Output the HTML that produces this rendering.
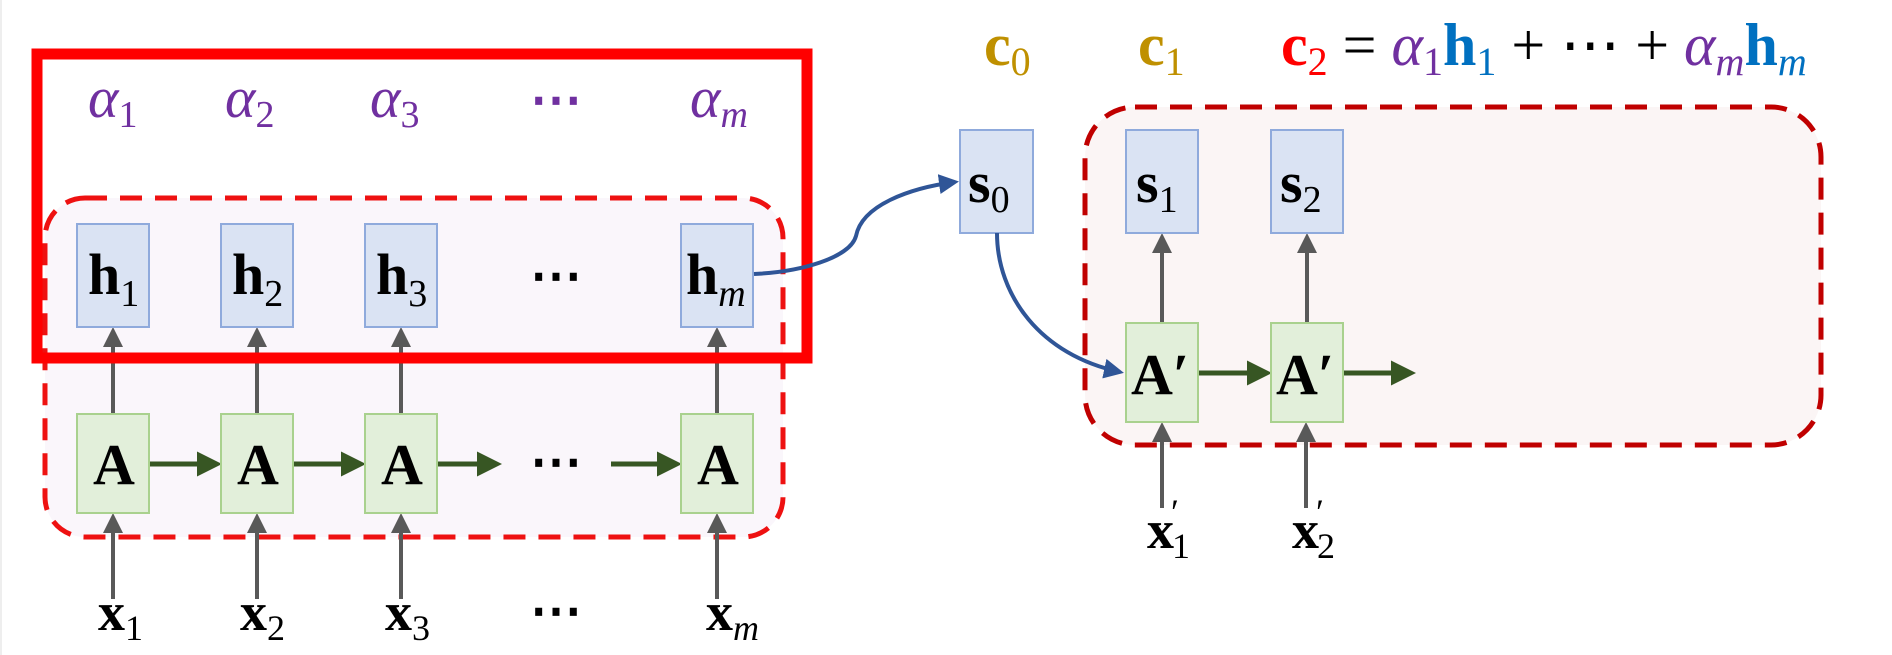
<!DOCTYPE html>
<html><head><meta charset="utf-8"><style>
html,body{margin:0;padding:0;background:#fff;overflow:hidden;}
svg{display:block;}
text{font-family:"Liberation Serif","DejaVu Serif",serif;}
.b{font-weight:bold;fill:#000;}
.i{font-style:italic;}
</style></head><body>
<svg width="1892" height="655" viewBox="0 0 1892 655" xmlns="http://www.w3.org/2000/svg">
<defs>
<marker id="ag" markerWidth="5" markerHeight="5" refX="4" refY="2.5" orient="auto" markerUnits="strokeWidth"><path d="M0,0 L5,2.5 L0,5 z" fill="#595959"/></marker>
<marker id="an" markerWidth="5" markerHeight="5" refX="4" refY="2.5" orient="auto" markerUnits="strokeWidth"><path d="M0,0 L5,2.5 L0,5 z" fill="#375623"/></marker>
<marker id="ab" markerWidth="5" markerHeight="5" refX="4" refY="2.5" orient="auto" markerUnits="strokeWidth"><path d="M0,0 L5,2.5 L0,5 z" fill="#2f5597"/></marker>
</defs>
<line x1="1" y1="0" x2="1" y2="655" stroke="#eee" stroke-width="2"/>
<rect x="45" y="198" width="738" height="339" rx="40" fill="#faf6fb" stroke="#ee1111" stroke-width="5" stroke-dasharray="22,13"/>
<rect x="1085" y="107" width="736" height="338" rx="50" fill="#fbf5f5" stroke="#c00000" stroke-width="5" stroke-dasharray="22,13"/>

<g stroke="#595959" stroke-width="4" marker-end="url(#ag)">
<line x1="113" y1="414" x2="113" y2="331"/><line x1="257" y1="414" x2="257" y2="331"/>
<line x1="401" y1="414" x2="401" y2="331"/><line x1="717" y1="414" x2="717" y2="331"/>
<line x1="113" y1="599" x2="113" y2="517"/><line x1="257" y1="599" x2="257" y2="517"/>
<line x1="401" y1="599" x2="401" y2="517"/><line x1="717" y1="599" x2="717" y2="517"/>
<line x1="1162" y1="323" x2="1162" y2="237"/><line x1="1307" y1="323" x2="1307" y2="237"/>
<line x1="1162" y1="508" x2="1162" y2="426"/><line x1="1306" y1="508" x2="1306" y2="426"/>
</g>
<g stroke="#375623" stroke-width="5" marker-end="url(#an)">
<line x1="149" y1="464" x2="217" y2="464"/><line x1="293" y1="464" x2="361" y2="464"/>
<line x1="437" y1="464" x2="497" y2="464"/><line x1="611" y1="464" x2="677" y2="464"/>
<line x1="1198" y1="373" x2="1267" y2="373"/><line x1="1343" y1="373" x2="1411" y2="373"/>
</g>
<g fill="#dae3f3" stroke="#8faadc" stroke-width="2">
<rect x="77" y="224" width="72" height="103"/><rect x="221" y="224" width="72" height="103"/>
<rect x="365" y="224" width="72" height="103"/><rect x="681" y="224" width="72" height="103"/>
<rect x="960" y="130" width="73" height="103"/><rect x="1126" y="130" width="72" height="103"/><rect x="1271" y="130" width="72" height="103"/>
</g>
<g fill="#e2efda" stroke="#a9d18e" stroke-width="2">
<rect x="77" y="414" width="72" height="99"/><rect x="221" y="414" width="72" height="99"/>
<rect x="365" y="414" width="72" height="99"/><rect x="681" y="414" width="72" height="99"/>
<rect x="1126" y="323" width="72" height="99"/><rect x="1271" y="323" width="72" height="99"/>
</g>
<rect x="37" y="54" width="770" height="304" fill="none" stroke="#ff0000" stroke-width="11"/>
<path d="M754,274 C800,272 850,258 856,236 C862,205 910,188 955,182" fill="none" stroke="#2f5597" stroke-width="4" marker-end="url(#ab)"/>
<path d="M997,233 C997,295 1040,355 1120,372" fill="none" stroke="#2f5597" stroke-width="4" marker-end="url(#ab)"/>

<g fill="#7030a0" class="i" font-size="58">
<text x="88" y="117">α<tspan font-size="38" font-style="normal" dy="10">1</tspan></text>
<text x="225" y="117">α<tspan font-size="38" font-style="normal" dy="10">2</tspan></text>
<text x="370" y="117">α<tspan font-size="38" font-style="normal" dy="10">3</tspan></text>
<text x="690" y="117">α<tspan font-size="38" dy="10">m</tspan></text>
</g>
<text x="530" y="117" font-size="52" font-weight="bold" fill="#7030a0">⋯</text>
<g class="b" font-size="58">
<text x="88" y="294">h<tspan font-size="38" font-weight="normal" dy="12">1</tspan></text>
<text x="232" y="294">h<tspan font-size="38" font-weight="normal" dy="12">2</tspan></text>
<text x="376" y="294">h<tspan font-size="38" font-weight="normal" dy="12">3</tspan></text>
<text x="686" y="294">h<tspan font-size="38" font-weight="normal" font-style="italic" dy="12">m</tspan></text>
<text x="530" y="293" font-size="52">⋯</text>
<text x="93" y="484">A</text><text x="237" y="484">A</text><text x="381" y="484">A</text><text x="697" y="484">A</text>
<text x="530" y="479" font-size="52">⋯</text>
<text x="1131" y="394">A′</text><text x="1276" y="394">A′</text>
<text x="968" y="202">s<tspan font-size="38" font-weight="normal" dy="10">0</tspan></text>
<text x="1136" y="202">s<tspan font-size="38" font-weight="normal" dy="10">1</tspan></text>
<text x="1280" y="202">s<tspan font-size="38" font-weight="normal" dy="10">2</tspan></text>
</g>
<g class="b" font-size="54">
<text x="98" y="630">x<tspan font-size="36" font-weight="normal" dy="10">1</tspan></text>
<text x="240" y="630">x<tspan font-size="36" font-weight="normal" dy="10">2</tspan></text>
<text x="385" y="630">x<tspan font-size="36" font-weight="normal" dy="10">3</tspan></text>
<text x="706" y="630">x<tspan font-size="36" font-weight="normal" font-style="italic" dy="10">m</tspan></text>
<text x="530" y="628" font-size="52">⋯</text>
<text x="1147" y="548">x<tspan font-size="36" font-weight="normal" dx="-2" dy="10">1</tspan><tspan font-size="36" font-weight="normal" dx="-19" dy="-34">′</tspan></text>
<text x="1292" y="548">x<tspan font-size="36" font-weight="normal" dx="-2" dy="10">2</tspan><tspan font-size="36" font-weight="normal" dx="-19" dy="-34">′</tspan></text>
</g>
<g font-size="60" font-weight="bold" fill="#bf9000">
<text x="984" y="65">c<tspan font-size="40" font-weight="normal" dy="10">0</tspan></text>
<text x="1138" y="65">c<tspan font-size="40" font-weight="normal" dy="10">1</tspan></text>
</g>
<text x="1281" y="65" font-size="60">
<tspan font-weight="bold" fill="#ff0000">c</tspan><tspan font-size="40" fill="#ff0000" dy="10">2</tspan><tspan dy="-10" fill="#000"> = </tspan><tspan font-style="italic" fill="#7030a0">α</tspan><tspan font-size="40" fill="#7030a0" dy="10">1</tspan><tspan font-weight="bold" fill="#0070c0" dy="-10">h</tspan><tspan font-size="40" fill="#0070c0" dy="10">1</tspan><tspan dy="-10" fill="#000"> + ⋯ + </tspan><tspan font-style="italic" fill="#7030a0">α</tspan><tspan font-size="40" font-style="italic" fill="#7030a0" dy="10">m</tspan><tspan font-weight="bold" fill="#0070c0" dy="-10">h</tspan><tspan font-size="40" font-style="italic" fill="#0070c0" dy="10">m</tspan>
</text>
</svg>
</body></html>
